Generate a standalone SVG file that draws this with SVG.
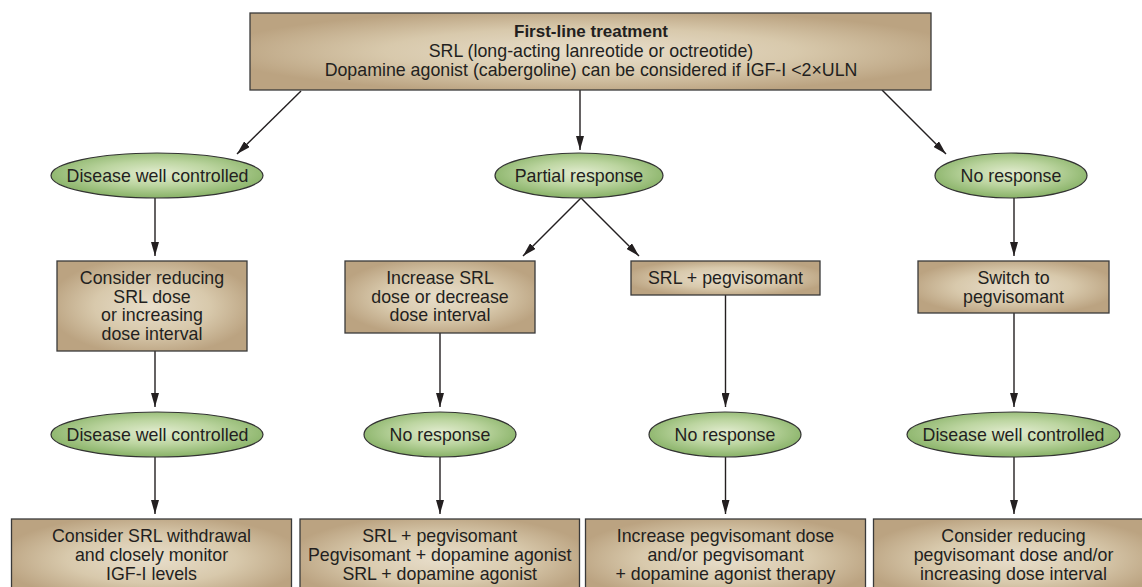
<svg xmlns="http://www.w3.org/2000/svg" width="1142" height="587" viewBox="0 0 1142 587">
<style>
.box{fill:url(#tan);stroke:#3a3a3a;stroke-width:1.3}
.ell{fill:url(#grn);stroke:#333;stroke-width:1.2}
text{font-family:"Liberation Sans",Arial,sans-serif;font-size:17.8px;fill:#231f20;text-anchor:middle}
.b{font-weight:bold;font-size:17px}
.c line{stroke:#231f20;stroke-width:1.4;marker-end:url(#ah)}
</style>
<defs>
<radialGradient id="tan" cx="50%" cy="50%" r="55%">
<stop offset="0" stop-color="#e8decb"/>
<stop offset="0.55" stop-color="#d8c9ac"/>
<stop offset="1" stop-color="#bba381"/>
</radialGradient>
<radialGradient id="grn" cx="50%" cy="45%" r="55%">
<stop offset="0" stop-color="#e2ecd0"/>
<stop offset="0.5" stop-color="#bcd5a0"/>
<stop offset="1" stop-color="#88b267"/>
</radialGradient>
<marker id="ah" viewBox="0 0 14 8" markerWidth="14" markerHeight="8" refX="14" refY="4" orient="auto" markerUnits="userSpaceOnUse">
<path d="M0,0 L14,4 L0,8 z" fill="#231f20"/>
</marker>
</defs>
<rect width="1142" height="587" fill="#fff"/>

<g id="connectors" class="c">
<line x1="301" y1="91" x2="237" y2="154"/>
<line x1="580" y1="90" x2="580" y2="150"/>
<line x1="882" y1="90" x2="946" y2="154"/>
<line x1="155" y1="198" x2="155" y2="256"/>
<line x1="581" y1="198" x2="523" y2="256"/>
<line x1="581" y1="198" x2="639" y2="256"/>
<line x1="1014" y1="198" x2="1014" y2="256"/>
<line x1="155" y1="351" x2="155" y2="407"/>
<line x1="440" y1="333" x2="440" y2="407"/>
<line x1="725.5" y1="295" x2="725.5" y2="407"/>
<line x1="1014" y1="313" x2="1014" y2="407"/>
<line x1="155" y1="457" x2="155" y2="514"/>
<line x1="440" y1="457" x2="440" y2="514"/>
<line x1="725.5" y1="457" x2="725.5" y2="514"/>
<line x1="1014" y1="457" x2="1014" y2="514"/>
</g>

<g id="first-line">
<rect class="box" x="250" y="13" width="681" height="77"/>
<text class="b" x="591" y="37">First-line treatment</text>
<text x="591" y="57">SRL (long-acting lanreotide or octreotide)</text>
<text x="591" y="76">Dopamine agonist (cabergoline) can be considered if IGF-I &lt;2×ULN</text>
</g>

<g id="e-controlled-1">
<ellipse class="ell" cx="157" cy="175.5" rx="106" ry="22.5"/>
<text x="157.5" y="181.5">Disease well controlled</text>
</g>
<g id="e-partial">
<ellipse class="ell" cx="579" cy="175.5" rx="84" ry="22.5"/>
<text x="579" y="181.5">Partial response</text>
</g>
<g id="e-noresp-1">
<ellipse class="ell" cx="1011" cy="175.5" rx="76" ry="22.5"/>
<text x="1011" y="181.5">No response</text>
</g>

<g id="b-reduce-srl">
<rect class="box" x="57" y="261" width="190" height="90"/>
<text x="152" y="284">Consider reducing</text>
<text x="152" y="302.5">SRL dose</text>
<text x="152" y="321">or increasing</text>
<text x="152" y="339.5">dose interval</text>
</g>
<g id="b-increase-srl">
<rect class="box" x="345" y="261" width="190" height="72"/>
<text x="440" y="284">Increase SRL</text>
<text x="440" y="302.5">dose or decrease</text>
<text x="440" y="321">dose interval</text>
</g>
<g id="b-srl-peg">
<rect class="box" x="631" y="261" width="189" height="34"/>
<text x="725.5" y="284">SRL + pegvisomant</text>
</g>
<g id="b-switch">
<rect class="box" x="918" y="261" width="191" height="52"/>
<text x="1013.5" y="284">Switch to</text>
<text x="1013.5" y="302.5">pegvisomant</text>
</g>

<g id="e-controlled-2">
<ellipse class="ell" cx="157" cy="434.5" rx="106" ry="22.5"/>
<text x="157.5" y="440.5">Disease well controlled</text>
</g>
<g id="e-noresp-2">
<ellipse class="ell" cx="440" cy="434.5" rx="76" ry="22.5"/>
<text x="440" y="440.5">No response</text>
</g>
<g id="e-noresp-3">
<ellipse class="ell" cx="725" cy="434.5" rx="76" ry="22.5"/>
<text x="725" y="440.5">No response</text>
</g>
<g id="e-controlled-3">
<ellipse class="ell" cx="1013.5" cy="434.5" rx="106.5" ry="22.5"/>
<text x="1013.5" y="440.5">Disease well controlled</text>
</g>

<g id="b-withdrawal">
<rect class="box" x="11.5" y="519" width="280" height="80"/>
<text x="151.5" y="541.5">Consider SRL withdrawal</text>
<text x="151.5" y="560.5">and closely monitor</text>
<text x="151.5" y="579.5">IGF-I levels</text>
</g>
<g id="b-combos">
<rect class="box" x="300" y="519" width="279.5" height="80"/>
<text x="439.7" y="541.5">SRL + pegvisomant</text>
<text x="439.7" y="560.5">Pegvisomant + dopamine agonist</text>
<text x="439.7" y="579.5">SRL + dopamine agonist</text>
</g>
<g id="b-increase-peg">
<rect class="box" x="585.5" y="519" width="280" height="80"/>
<text x="725.5" y="541.5">Increase pegvisomant dose</text>
<text x="725.5" y="560.5">and/or pegvisomant</text>
<text x="725.5" y="579.5">+ dopamine agonist therapy</text>
</g>
<g id="b-reduce-peg">
<rect class="box" x="873.5" y="519" width="280" height="80"/>
<text x="1013.5" y="541.5">Consider reducing</text>
<text x="1013.5" y="560.5">pegvisomant dose and/or</text>
<text x="1013.5" y="579.5">increasing dose interval</text>
</g>
</svg>
